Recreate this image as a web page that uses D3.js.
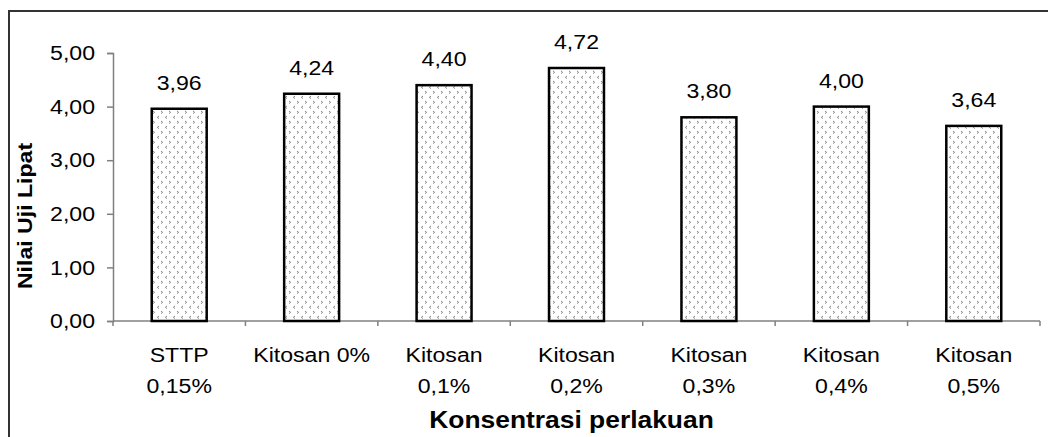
<!DOCTYPE html>
<html lang="en">
<head>
  <meta charset="UTF-8" />
  <title>Nilai Uji Lipat</title>
  <script src="https://d3js.org/d3.v7.min.js"></script>
  <style>
    body { margin: 0; background: #fff; }
    svg { display: block; font-family: Arial, 'Liberation Sans', sans-serif; }
  </style>
</head>
<body>
  <svg width="1048" height="437"></svg>

  <script>
    // data
    const categories = [
      ["STTP", "0,15%"],
      ["Kitosan 0%"],
      ["Kitosan", "0,1%"],
      ["Kitosan", "0,2%"],
      ["Kitosan", "0,3%"],
      ["Kitosan", "0,4%"],
      ["Kitosan", "0,5%"]
    ];
    const values = [3.96, 4.24, 4.40, 4.72, 3.80, 4.00, 3.64];
    const yTicks = [0, 1, 2, 3, 4, 5];
    const yTitle = "Nilai Uji Lipat";
    const xTitle = "Konsentrasi perlakuan";

    const svg = d3.select("svg");
    const stretch = "scale(1.1,1)";   // the original text is a bit wide
    const fmt = v => d3.format(".2f")(v).replace(".", ",");

    const plotL = 113, plotR = 1040, plotT = 53, plotB = 321;

    // chart frame, runs off the right and bottom of the picture
    svg.append("rect")
      .attr("x", 9).attr("y", 11)
      .attr("width", 1100).attr("height", 500)
      .attr("fill", "none").attr("stroke", "#333").attr("stroke-width", 2);

    // dotted chevron fill
    const pat = svg.append("defs").append("pattern")
      .attr("id", "dots")
      .attr("patternUnits", "userSpaceOnUse")
      .attr("width", 8).attr("height", 10);
    pat.append("rect").attr("width", 8).attr("height", 10).attr("fill", "#fff");
    pat.append("path").attr("d", "M1,1 L2.6,2.3 L1,3.6").attr("fill", "none").attr("stroke", "#666").attr("stroke-width", 0.8);
    pat.append("path").attr("d", "M7,6 L5.4,7.3 L7,8.6").attr("fill", "none").attr("stroke", "#666").attr("stroke-width", 0.8);

    const x = d3.scaleBand()
      .domain(d3.range(categories.length))
      .range([plotL, plotR])
      .paddingInner(0.585)
      .paddingOuter(0.2925);

    const y = d3.scaleLinear().domain([0, 5]).range([plotB, plotT]);

    // y axis
    const yAxis = svg.append("g")
      .attr("transform", `translate(${plotL},0)`)
      .call(d3.axisLeft(y).tickValues(yTicks).tickSize(6).tickFormat(fmt));
    yAxis.select(".domain").attr("stroke", "#808080").attr("stroke-width", 1.5);
    yAxis.selectAll(".tick line").attr("stroke", "#808080").attr("stroke-width", 1.5);
    yAxis.selectAll(".tick text")
      .attr("x", 0)
      .attr("transform", "translate(-18,0) " + stretch)
      .attr("font-size", 21).attr("fill", "#000");

    // x axis line and ticks between the bars
    const xg = svg.append("g");
    xg.append("line")
      .attr("x1", plotL).attr("x2", plotR)
      .attr("y1", plotB).attr("y2", plotB)
      .attr("stroke", "#808080").attr("stroke-width", 1.5);
    const bounds = d3.range(categories.length + 1).map(i => plotL + i * x.step());
    xg.selectAll(".xtick").data(bounds).enter().append("line")
      .attr("class", "xtick")
      .attr("x1", d => d).attr("x2", d => d)
      .attr("y1", plotB).attr("y2", plotB + 5)
      .attr("stroke", "#808080").attr("stroke-width", 1.5);

    // category labels
    const lab = svg.selectAll(".cat").data(categories).enter().append("text")
      .attr("class", "cat")
      .attr("transform", (d, i) => `translate(${x(i) + x.bandwidth() / 2},362) ${stretch}`)
      .attr("text-anchor", "middle")
      .attr("font-size", 21);
    lab.selectAll("tspan").data(d => d).enter().append("tspan")
      .attr("x", 0)
      .attr("dy", (d, j) => j ? 31 : 0)
      .text(d => d);

    // bars
    svg.selectAll(".bar").data(values).enter().append("rect")
      .attr("class", "bar")
      .attr("x", (d, i) => x(i))
      .attr("y", d => y(d))
      .attr("width", x.bandwidth())
      .attr("height", d => plotB - y(d))
      .attr("fill", "url(#dots)")
      .attr("stroke", "#000").attr("stroke-width", 2.5);

    // value labels
    svg.selectAll(".val").data(values).enter().append("text")
      .attr("class", "val")
      .attr("transform", (d, i) => `translate(${x(i) + x.bandwidth() / 2},${y(d) - 19}) ${stretch}`)
      .attr("text-anchor", "middle")
      .attr("font-size", 21)
      .text(fmt);

    // axis titles
    svg.append("text")
      .attr("transform", `translate(32,216) rotate(-90) ${stretch}`)
      .attr("text-anchor", "middle")
      .attr("font-size", 21).attr("font-weight", "bold")
      .text(yTitle);

    svg.append("text")
      .attr("transform", `translate(${(plotL + plotR) / 2 - 5},428) ${stretch}`)
      .attr("text-anchor", "middle")
      .attr("font-size", 24).attr("font-weight", "bold")
      .text(xTitle);
  </script>
</body>
</html>
